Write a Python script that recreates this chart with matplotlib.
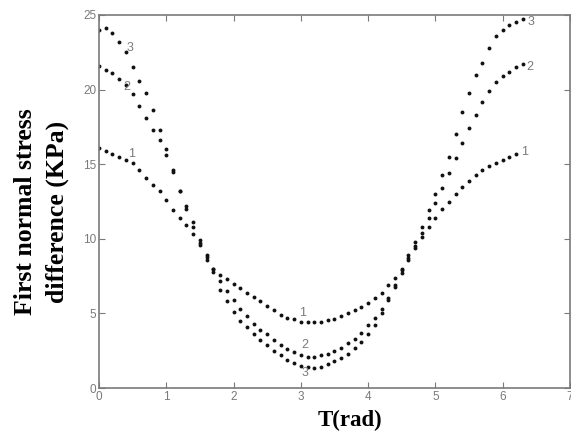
import numpy as np
import matplotlib
matplotlib.use("Agg")
from matplotlib import pyplot as plt

# angle grid (rad)
t = np.round(np.arange(0, 6.31, 0.1), 2)

# first normal stress difference (KPa)
curve1 = [16.1, 15.9, 15.7, 15.5, 15.3, 15.1, 14.6, 14.1, 13.6, 13.2,
          12.6, 11.9, 11.4, 10.9, 10.3, 9.6, 8.6, 8.0, 7.6, 7.3,
          7.0, 6.7, 6.4, 6.1, 5.8, 5.5, 5.2, 4.9, 4.7, 4.6,
          4.45, 4.4, 4.4, 4.45, 4.55, 4.65, 4.8, 5.0, 5.2, 5.4,
          5.7, 6.0, 6.4, 6.9, 7.4, 8.0, 8.7, 9.4, 10.1, 10.8,
          11.4, 12.0, 12.5, 13.0, 13.5, 13.9, 14.3, 14.6, 14.9, 15.1,
          15.3, 15.5, 15.7]
curve2 = [21.6, 21.3, 21.1, 20.7, 20.3, 19.7, 18.9, 18.1, 17.3, 16.6,
          15.6, 14.5, 13.2, 12.2, 11.1, 9.9, 8.9, 8.0, 7.2, 6.5,
          5.9, 5.3, 4.8, 4.3, 3.9, 3.6, 3.2, 2.9, 2.6, 2.4,
          2.2, 2.1, 2.1, 2.2, 2.3, 2.5, 2.7, 3.0, 3.3, 3.7,
          4.2, 4.7, 5.3, 6.0, 6.8, 7.7, 8.6, 9.5, 10.4, 11.4,
          12.4, 13.4, 14.4, 15.4, 16.4, 17.4, 18.3, 19.2, 19.9, 20.5,
          20.9, 21.2, 21.5, 21.7]
curve3 = [24.0, 24.1, 23.8, 23.2, 22.5, 21.5, 20.6, 19.8, 18.6, 17.3,
          16.0, 14.6, 13.2, 12.0, 10.8, 9.7, 8.8, 7.8, 6.6, 5.8,
          5.1, 4.5, 4.1, 3.6, 3.2, 2.9, 2.5, 2.2, 1.9, 1.7,
          1.5, 1.4, 1.35, 1.4, 1.6, 1.8, 2.0, 2.3, 2.7, 3.1,
          3.6, 4.2, 5.0, 5.9, 6.9, 7.9, 8.9, 9.8, 10.8, 11.9,
          13.0, 14.3, 15.5, 17.0, 18.5, 19.8, 21.0, 21.8, 22.8, 23.6,
          24.0, 24.3, 24.5, 24.7]

curve_names = ["1", "2", "3"]
# where the curve numbers sit (x, y)
tags_left = [(0.49, 15.7), (0.42, 20.2), (0.46, 22.8)]
tags_mid = [(3.03, 5.0), (3.06, 2.9), (3.06, 1.0)]
tags_right = [(6.33, 15.8), (6.4, 21.5), (6.42, 24.5)]

grey = "#7a7a7a"

fig = plt.figure(figsize=(5.71, 4.37), dpi=100)
ax = fig.add_axes([0.1734, 0.1121, 0.8246, 0.8536])

for y in (curve1, curve2, curve3):
    ax.plot(t[:len(y)], y, linestyle="none", marker="o", markersize=2.8,
            color="#111111", markeredgewidth=0)

for tags in (tags_left, tags_mid, tags_right):
    for name, (x, y) in zip(curve_names, tags):
        ax.text(x, y, name, color=grey, fontsize=9, ha="center", va="center",
                family="Liberation Sans")

ax.set_xlim(0, 7)
ax.set_ylim(0, 25)
ax.set_xticks(range(0, 8))
ax.set_yticks(range(0, 26, 5))
ax.tick_params(direction="in", top=True, right=True, length=4,
               color=grey, labelcolor=grey, labelsize=8.5, pad=2)
for lab in ax.get_xticklabels() + ax.get_yticklabels():
    lab.set_family("Liberation Sans")
for sp in ax.spines.values():
    sp.set_color(grey)
    sp.set_linewidth(1.2)

fig.text(0.613, 0.039, "T(rad)", fontsize=16.5, fontweight="bold",
         family="Liberation Serif", ha="center", va="center")
fig.text(0.044, 0.515, "First normal stress", fontsize=18.5,
         fontweight="bold", family="Liberation Serif", rotation=90,
         ha="center", va="center")
fig.text(0.101, 0.515, "difference (KPa)", fontsize=18.5,
         fontweight="bold", family="Liberation Serif", rotation=90,
         ha="center", va="center")

fig.savefig("out.png", dpi=100)
